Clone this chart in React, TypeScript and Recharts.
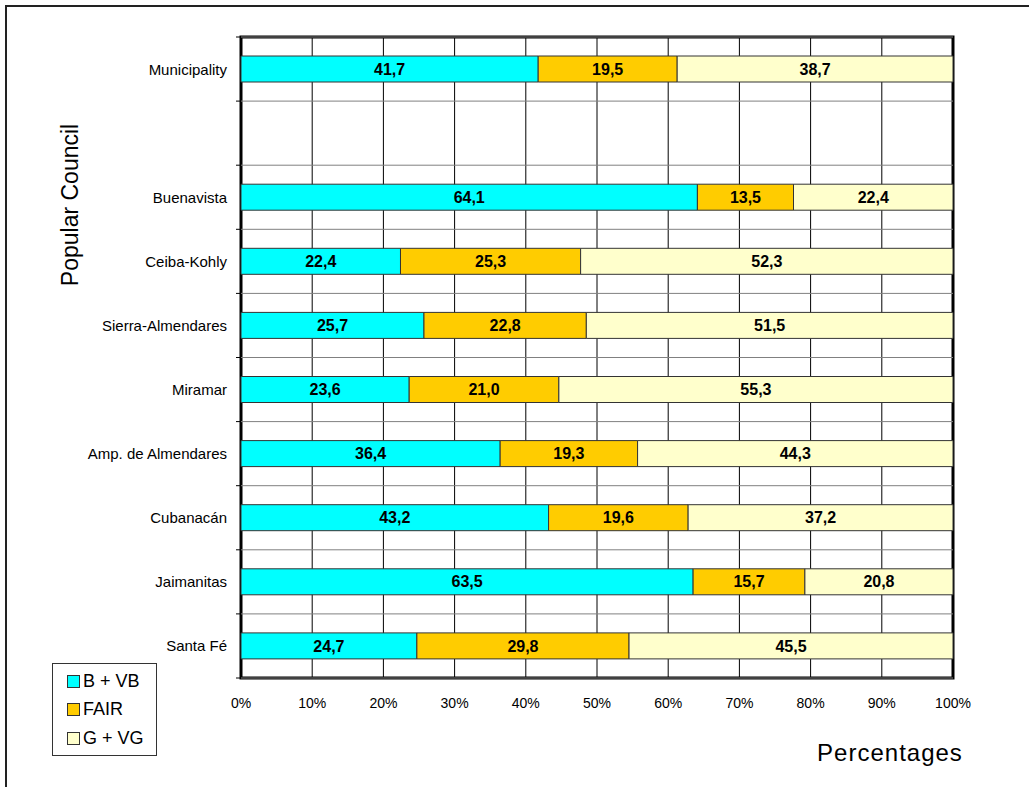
import { BarChart, Bar, XAxis, YAxis, CartesianGrid, LabelList, ReferenceArea, Label } from 'recharts';

// categories, top to bottom (one empty row after Municipality)
const councils = [
  'Municipality',
  ' ',
  'Buenavista',
  'Ceiba-Kohly',
  'Sierra-Almendares',
  'Miramar',
  'Amp. de Almendares',
  'Cubanacán',
  'Jaimanitas',
  'Santa Fé',
];

const bvb = [41.7, null, 64.1, 22.4, 25.7, 23.6, 36.4, 43.2, 63.5, 24.7];
const fair = [19.5, null, 13.5, 25.3, 22.8, 21.0, 19.3, 19.6, 15.7, 29.8];
const gvg = [38.7, null, 22.4, 52.3, 51.5, 55.3, 44.3, 37.2, 20.8, 45.5];

const seriesKeys = ['bvb', 'fair', 'gvg'];
const seriesNames = ['B + VB', 'FAIR', 'G + VG'];
const seriesColors = ['#00FFFF', '#FFCC00', '#FFFFCC'];

const xTicks = [0, 0.1, 0.2, 0.3, 0.4, 0.5, 0.6, 0.7, 0.8, 0.9, 1];

const data = councils.map((name, i) => ({ name, bvb: bvb[i], fair: fair[i], gvg: gvg[i] }));

const W = 1029;
const H = 787;
const MARGIN = { top: 37, right: 76, bottom: 0, left: 0 };
const Y_W = 241;
const PLOT_W = W - MARGIN.right - MARGIN.left - Y_W;
const TICK_GAP = 14;

const FONT = '"Liberation Sans", Arial, sans-serif';
const NARROW = '"Liberation Sans Narrow", "Arial Narrow", "Liberation Sans", Arial, sans-serif';

const fmt = (v: any) => (v == null ? '' : Number(v).toFixed(1).replace('.', ','));

// category label + boundary tick + gray row line at each band edge
function CouncilTick(props: any) {
  const { x, y, payload, index } = props;
  const half = payload?.offset ?? 0;
  const last = index === councils.length - 1;
  const x0 = x + TICK_GAP;
  const edges = last ? [y - half, y + half] : [y - half];
  return (
    <g>
      {edges.map((ey) => (
        <g key={ey}>
          <line x1={x0} x2={x0 + PLOT_W} y1={ey} y2={ey} stroke="#808080" />
          <line x1={x0 - 5} x2={x0} y1={ey} y2={ey} stroke="#000" />
        </g>
      ))}
      <text x={x} y={y} textAnchor="end" dominantBaseline="central" fontSize={15} fontFamily={FONT} fill="#000">
        {payload.value}
      </text>
    </g>
  );
}

export default function App() {
  return (
    <div style={{ position: 'fixed', left: 0, top: 0, width: W, height: H, overflow: 'hidden', background: '#fff' }}>
      <div style={{ position: 'absolute', left: 5, top: 5, width: 1200, height: 1000, border: '2px solid #222' }} />
      <BarChart
        width={W}
        height={H}
        data={data}
        layout="vertical"
        stackOffset="expand"
        barSize={26}
        margin={MARGIN}
      >
        <CartesianGrid horizontal={false} stroke="#000" />
        <XAxis
          type="number"
          domain={[0, 1]}
          ticks={xTicks}
          height={109}
          axisLine={false}
          tickLine={false}
          tickSize={0}
          tickMargin={20}
          tickFormatter={(v: number) => `${Math.round(v * 100)}%`}
          tick={{ fontSize: 14, fontFamily: FONT, fill: '#000' }}
          interval={0}
        >
          <Label
            content={({ viewBox }: any) => (
              <text
                x={viewBox.x + 649}
                y={viewBox.y + 83}
                textAnchor="middle"
                fontSize={24}
                letterSpacing={1}
                fontFamily={FONT}
                fill="#000"
              >
                Percentages
              </text>
            )}
          />
        </XAxis>
        <YAxis
          type="category"
          dataKey="name"
          width={Y_W}
          axisLine={false}
          tickLine={false}
          tickSize={0}
          tickMargin={TICK_GAP}
          interval={0}
          tick={<CouncilTick />}
        >
          <Label
            content={({ viewBox }: any) => (
              <text
                x={viewBox.x + 70}
                y={viewBox.y + 168}
                transform={`rotate(-90 ${viewBox.x + 70} ${viewBox.y + 168})`}
                textAnchor="middle"
                dominantBaseline="central"
                fontSize={23}
                fontFamily={FONT}
                fill="#000"
              >
                Popular Council
              </text>
            )}
          />
        </YAxis>
        {seriesKeys.map((k, i) => (
          <Bar
            key={k}
            dataKey={k}
            name={seriesNames[i]}
            stackId="a"
            fill={seriesColors[i]}
            stroke="#333"
            strokeWidth={1}
            isAnimationActive={false}
          >
            <LabelList
              dataKey={k}
              position="center"
              formatter={fmt}
              style={{ fontSize: 16, fontWeight: 'bold', fontFamily: NARROW, fill: '#000' }}
            />
          </Bar>
        ))}
        <ReferenceArea x1={0} x2={1} fill="none" fillOpacity={0} stroke="#000" strokeWidth={3} ifOverflow="visible" />
      </BarChart>
      <div
        style={{
          position: 'absolute',
          left: 52,
          top: 663,
          width: 105,
          height: 93,
          border: '1px solid #333',
          fontFamily: FONT,
          fontSize: 18,
          paddingTop: 3,
          boxSizing: 'border-box',
        }}
      >
        {seriesNames.map((n, i) => (
          <div key={n} style={{ display: 'flex', alignItems: 'center', height: 28.5, paddingLeft: 14 }}>
            <span
              style={{
                display: 'inline-block',
                width: 11,
                height: 11,
                background: seriesColors[i],
                border: '1px solid #333',
                marginRight: 3,
              }}
            />
            <span>{n}</span>
          </div>
        ))}
      </div>
    </div>
  );
}
